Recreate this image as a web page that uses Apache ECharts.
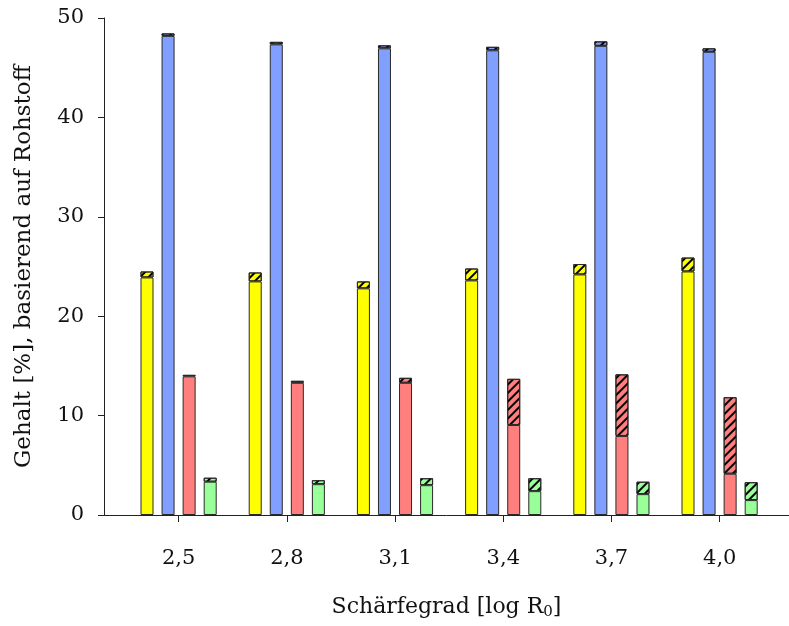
<!DOCTYPE html>
<html>
<head>
<meta charset="utf-8">
<script src="https://cdn.jsdelivr.net/npm/echarts@6/dist/echarts.min.js"></script>
<style>
html,body{margin:0;padding:0;background:#fff;}
#chart{width:789px;height:626px;}
</style>
</head>
<body>
<div id="chart"></div>
<script>
// Category positions (log R0) and their tick labels
const xValues = [2.5, 2.8, 3.1, 3.4, 3.7, 4.0];
const tickLabels = ['2,5', '2,8', '3,1', '3,4', '3,7', '4,0'];
const yTicks = [0, 10, 20, 30, 40, 50];

// Solid (lower) part and hatched (upper) part of each bar
const yellowSolid = [23.9, 23.5, 22.8, 23.6, 24.2, 24.5];
const yellowHatch = [0.6, 0.9, 0.7, 1.2, 1.05, 1.4];
const blueSolid   = [48.2, 47.35, 46.95, 46.75, 47.2, 46.6];
const blueHatch   = [0.25, 0.25, 0.3, 0.35, 0.45, 0.35];
const redSolid    = [13.95, 13.3, 13.3, 9.05, 7.95, 4.15];
const redHatch    = [0.15, 0.2, 0.5, 4.65, 6.2, 7.7];
const greenSolid  = [3.35, 3.1, 3.0, 2.4, 2.1, 1.5];
const greenHatch  = [0.4, 0.4, 0.7, 1.3, 1.25, 1.8];

const FONT = 'DejaVu Serif';

const decal = {
  symbol: 'rect',
  symbolSize: 1,
  dashArrayX: [1, 0],
  dashArrayY: [1.3, 3.4],
  rotation: -Math.PI / 4,
  color: '#000'
};

function mk(name, data, color, stack, hatched) {
  const s = {
    name: name,
    type: 'bar',
    xAxisIndex: 1,
    yAxisIndex: 1,
    stack: stack,
    data: data,
    barWidth: 13,
    barGap: '62%',
    itemStyle: { color: color, borderColor: '#2a2a2a', borderWidth: 1 },
    emphasis: { disabled: true },
    animation: false
  };
  if (hatched) s.itemStyle.decal = decal;
  return s;
}

const chart = echarts.init(document.getElementById('chart'), null, { renderer: 'canvas' });
chart.setOption({
  backgroundColor: '#fff',
  animation: false,
  aria: { enabled: false, decal: { show: false } },
  grid: [
    { left: 104, top: 18, right: 0, bottom: 111, containLabel: false },
    { left: 124.5, top: 18, width: 649.2, bottom: 111, containLabel: false }
  ],
  xAxis: [{
    gridIndex: 0,
    type: 'value',
    min: 2.293,
    max: 4.192,
    name: 'Schärfegrad [log R{s|0}]',
    nameLocation: 'middle',
    nameGap: 80,
    nameTextStyle: {
      fontFamily: FONT, fontSize: 22, color: '#111',
      rich: { s: { fontFamily: FONT, fontSize: 15, verticalAlign: 'bottom', padding: [10, 0, 0, 0], color: '#111' } }
    },
    axisLine: { show: true, lineStyle: { color: '#222', width: 1 } },
    axisTick: { show: true, customValues: xValues, length: 7, inside: false, lineStyle: { color: '#222' } },
    axisLabel: {
      customValues: xValues,
      margin: 33,
      fontFamily: FONT, fontSize: 21, color: '#111',
      formatter: v => {
        const i = xValues.findIndex(x => Math.abs(x - v) < 1e-6);
        return i >= 0 ? tickLabels[i] : '';
      }
    },
    splitLine: { show: false }
  }, {
    gridIndex: 1,
    type: 'category',
    data: tickLabels,
    show: false
  }],
  yAxis: [{
    gridIndex: 0,
    type: 'value',
    min: 0,
    max: 50,
    interval: 10,
    name: 'Gehalt [%], basierend auf Rohstoff',
    nameLocation: 'middle',
    nameGap: 68,
    nameTextStyle: { fontFamily: FONT, fontSize: 23, color: '#111' },
    axisLine: { show: true, lineStyle: { color: '#222', width: 1 } },
    axisTick: { show: true, length: 6, lineStyle: { color: '#222' } },
    axisLabel: { margin: 20, fontFamily: FONT, fontSize: 21, color: '#111',
      formatter: v => (yTicks.indexOf(v) >= 0 ? String(v) : '') },
    splitLine: { show: false }
  }, {
    gridIndex: 1,
    type: 'value',
    min: 0,
    max: 50,
    show: false
  }],
  series: [
    mk('Y1', yellowSolid, '#FFFF00', 'y', false),
    mk('Y2', yellowHatch, '#FFFF00', 'y', true),
    mk('B1', blueSolid, '#809FFF', 'b', false),
    mk('B2', blueHatch, '#809FFF', 'b', true),
    mk('R1', redSolid, '#FF7F7F', 'r', false),
    mk('R2', redHatch, '#FF7F7F', 'r', true),
    mk('G1', greenSolid, '#99FF99', 'g', false),
    mk('G2', greenHatch, '#99FF99', 'g', true)
  ]
});
</script>
</body>
</html>
